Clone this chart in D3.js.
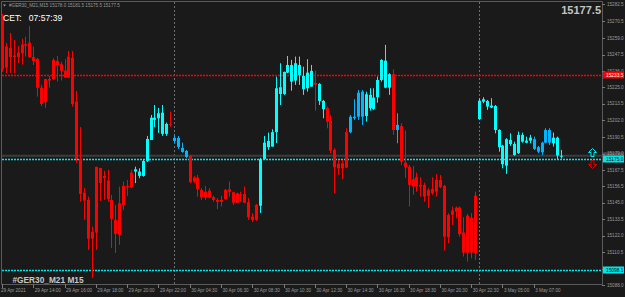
<!DOCTYPE html>
<html lang="en">
	<head>
		<meta charset="utf-8">
		<title>GER30 M15</title>
		<script type="text/javascript" src="https://cdn.jsdelivr.net/npm/d3@7"></script>
		<style type="text/css">
			body { margin: 0; background: #1a1a1a; }
			svg { display: block; }
			text { font-family: "Liberation Sans", Arial, sans-serif; }
		</style>
	</head>
	<body>
		<script type="text/javascript">

			// OHLC per M15 bar
			var open = [15274.2,15253.0,15252.1,15246.8,15248.8,15254.4,15254.6,15255.8,15245.7,15244.5,
				15224.6,15230.6,15230.6,15243.8,15243.1,15240.8,15236.4,15246.1,15245.2,15214.9,
				15175.3,15151.9,15146.9,15124.8,15169.7,15169.0,15163.5,15160.3,15146.9,15133.1,
				15144.6,15156.6,15156.6,15165.8,15166.5,15163.5,15163.5,15173.9,15188.4,15202.3,
				15203.4,15192.6,15192.6,15199.5,15187.7,15183.6,15180.1,15176.7,15177.4,15162.3,
				15162.3,15153.8,15152.6,15153.3,15148.8,15146.9,15146.9,15153.8,15154.3,15152.2,
				15151.5,15150.8,15151.0,15145.3,15135.3,15143.4,15142.9,15175.3,15183.4,15183.8,
				15193.8,15220.2,15220.2,15235.0,15228.8,15229.5,15233.4,15223.5,15224.2,15225.3,
				15227.9,15215.4,15209.7,15210.4,15201.6,15181.5,15171.8,15172.3,15193.8,15193.8,
				15203.4,15204.5,15204.5,15205.0,15210.4,15209.9,15218.0,15229.9,15224.6,15224.6,
				15233.9,15195.3,15198.1,15172.7,15169.9,15161.2,15162.6,15157.3,15157.3,15153.8,
				15154.5,15160.7,15160.7,15156.6,15136.5,15139.5,15141.6,15141.6,15124.3,15136.0,
				15134.6,15149.9,15202.9,15214.9,15211.5,15210.8,15195.3,15183.4,15171.6,15170.6,
				15185.6,15178.0,15179.2,15187.2,15186.5,15187.9,15182.2,15180.3,15179.9,15186.5,
				15186.5,15186.1,15177.6,15177.0];
			var high = [15275.6,15255.5,15262.5,15257.6,15253.5,15258.5,15259.9,15267.3,15253.0,15245.2,
				15226.5,15230.6,15232.7,15245.0,15246.5,15242.6,15244.3,15250.0,15250.0,15222.3,
				15197.4,15155.2,15149.2,15128.4,15169.9,15169.0,15167.0,15167.7,15150.4,15143.4,
				15156.1,15159.6,15160.7,15167.7,15169.9,15168.8,15175.1,15191.2,15205.7,15212.6,
				15210.6,15212.6,15200.4,15208.0,15191.9,15191.2,15186.5,15181.5,15178.0,15163.5,
				15164.2,15155.0,15156.6,15155.0,15149.7,15148.1,15149.7,15154.5,15159.6,15152.6,
				15151.9,15152.6,15156.1,15148.1,15137.7,15144.1,15176.0,15191.2,15193.5,15195.8,
				15232.2,15241.5,15235.7,15246.5,15243.8,15246.1,15246.1,15239.1,15244.3,15240.3,
				15236.4,15227.7,15216.1,15211.5,15205.7,15182.7,15174.6,15174.6,15196.5,15205.7,
				15216.6,15223.0,15223.0,15221.8,15224.2,15224.2,15232.2,15244.3,15254.2,15234.6,
				15237.3,15206.9,15200.0,15194.9,15171.1,15170.4,15165.8,15162.6,15158.9,15155.0,
				15162.6,15164.7,15164.2,15157.3,15137.7,15142.3,15142.3,15142.3,15134.9,15137.2,
				15137.7,15152.6,15217.3,15218.0,15216.1,15217.3,15212.6,15195.8,15185.0,15189.6,
				15193.0,15187.2,15194.2,15193.5,15190.7,15191.9,15190.7,15184.2,15187.2,15196.5,
				15196.5,15193.5,15190.7,15181.5];
			var low = [15235.5,15234.8,15234.8,15234.8,15241.7,15240.5,15246.1,15245.2,15240.3,15218.4,
				15211.9,15210.6,15224.6,15229.9,15228.8,15229.5,15231.5,15231.3,15211.5,15172.5,
				15145.7,15133.1,15112.3,15093.0,15112.3,15146.2,15146.9,15145.7,15113.7,15110.2,
				15115.8,15140.0,15149.7,15155.0,15158.5,15161.9,15163.0,15173.2,15188.4,15197.4,
				15193.3,15191.2,15191.2,15197.6,15186.3,15182.2,15179.6,15176.0,15158.5,15158.5,
				15149.2,15146.9,15146.9,15148.1,15145.7,15140.5,15142.3,15146.9,15149.2,15143.4,
				15144.6,15145.7,15144.6,15133.1,15131.7,15132.4,15137.9,15174.6,15181.5,15183.8,
				15186.3,15212.6,15219.6,15234.6,15222.5,15226.5,15226.5,15219.6,15221.8,15225.3,
				15208.7,15212.6,15203.4,15196.5,15179.2,15151.5,15164.2,15161.2,15168.8,15193.0,
				15202.3,15202.3,15198.8,15201.1,15208.7,15209.2,15214.2,15228.8,15224.2,15219.6,
				15191.9,15186.1,15171.1,15162.1,15142.3,15150.4,15152.6,15149.2,15145.7,15141.2,
				15150.4,15149.2,15155.0,15111.8,15116.9,15129.6,15134.2,15121.5,15107.7,15104.2,
				15106.5,15105.4,15202.3,15213.8,15209.2,15210.4,15193.0,15180.3,15168.8,15164.9,
				15184.2,15177.4,15178.7,15186.5,15186.1,15186.1,15181.5,15179.2,15178.0,15186.1,
				15184.9,15183.8,15175.1,15175.5];
			var close = [15237.5,15238.5,15245.9,15245.7,15245.7,15248.4,15253.7,15245.7,15243.1,15224.6,
				15213.3,15214.5,15229.5,15230.6,15240.3,15236.2,15231.5,15231.5,15213.3,15175.3,
				15151.0,15146.4,15120.1,15120.1,15124.3,15158.7,15162.1,15147.4,15133.8,15123.4,
				15122.7,15143.4,15155.7,15155.7,15168.1,15166.5,15173.9,15189.1,15203.8,15203.8,
				15206.9,15207.3,15199.5,15198.8,15189.8,15189.8,15182.9,15180.8,15159.2,15159.6,
				15154.5,15148.5,15148.5,15148.5,15146.9,15145.5,15145.5,15147.4,15152.6,15145.0,
				15145.0,15149.7,15145.0,15134.9,15133.1,15133.1,15175.1,15186.5,15187.7,15193.8,
				15224.2,15224.9,15235.5,15240.3,15240.3,15241.5,15240.3,15232.7,15235.0,15236.2,
				15226.5,15227.2,15215.4,15201.1,15181.0,15169.5,15168.8,15168.8,15169.3,15204.5,
				15204.5,15221.1,15221.8,15220.0,15219.6,15217.7,15229.9,15243.8,15243.3,15233.9,
				15195.3,15198.8,15173.4,15169.5,15157.3,15156.1,15156.1,15156.1,15149.2,15149.7,
				15151.5,15152.6,15155.7,15121.5,15121.1,15136.5,15138.8,15123.2,15110.4,15110.4,
				15110.4,15110.0,15215.6,15216.6,15215.4,15212.2,15211.9,15195.3,15184.5,15188.9,
				15188.4,15185.6,15191.9,15191.9,15187.9,15190.0,15188.9,15183.4,15186.5,15195.3,
				15195.3,15190.0,15190.0,15177.5];

			// bars painted in the deeper blue
			var blueBars = [44,45,46,47,89,90,91,92,101,136,137,138,139,140];

			// first bar of each day (period separators)
			var dayStarts = [44, 122];

			// time labels, one every 8 bars
			var timeLabels = ["29 Apr 2021","29 Apr 14:00","29 Apr 16:00","29 Apr 18:00","29 Apr 20:00",
				"29 Apr 22:00","30 Apr 04:30","30 Apr 06:30","30 Apr 08:30","30 Apr 10:30","30 Apr 12:30",
				"30 Apr 14:30","30 Apr 16:30","30 Apr 18:30","30 Apr 20:30","30 Apr 22:30","3 May 05:00","3 May 07:00"];

			// price scale labels
			var priceLabels = ["15282.5","15270.5","15259.0","15247.5","15236.0","15225.0","15213.5","15202.0",
				"15190.5","15179.0","15167.5","15156.5","15145.0","15133.5","15122.0","15110.5","15099.0","15088.0"];

			// horizontal lines: level, colour, label
			var levels = [
				{ price: 15233.5, color: "#ff0000", text: "#ffffff" },
				{ price: 15175.0, color: "#00e5ee", text: "#000000" },
				{ price: 15098.1, color: "#00e5ee", text: "#000000" }
			];
			var bid = 15177.5;

			//Width and height
			var w = 625;
			var h = 297;
			var plotRight = 602;
			var plotBottom = 284;

			var x = d3.scaleLinear().domain([0, 143]).range([2, 561.1]);
			var y = d3.scaleLinear().domain([15088, 15282.5]).range([285, 4]);

			var svg = d3.select("body")
						.append("svg")
						.attr("width", w)
						.attr("height", h);

			svg.append("rect")
				.attr("width", w).attr("height", h)
				.attr("fill", "#1a1a1a");

			// frame
			svg.append("path")
				.attr("d", "M1.5," + plotBottom + ".5V1.5H" + plotRight + ".5V" + plotBottom + ".5H1.5")
				.attr("fill", "none")
				.attr("stroke", "#5a5a5a")
				.attr("stroke-width", 1);

			// period separators
			svg.selectAll("line.sep")
				.data(dayStarts)
				.enter()
				.append("line")
				.attr("class", "sep")
				.attr("x1", function(d) { return Math.round(x(d)) + 0.5; })
				.attr("x2", function(d) { return Math.round(x(d)) + 0.5; })
				.attr("y1", 2)
				.attr("y2", plotBottom)
				.attr("stroke", "#6e6e6e")
				.attr("stroke-dasharray", "2,2");

			// bid line
			svg.append("line")
				.attr("x1", 2).attr("x2", plotRight)
				.attr("y1", y(bid)).attr("y2", y(bid))
				.attr("stroke", "#3c3c3c")
				.attr("stroke-width", 2);

			// level lines
			svg.selectAll("line.level")
				.data(levels)
				.enter()
				.append("line")
				.attr("class", "level")
				.attr("x1", 2).attr("x2", plotRight)
				.attr("y1", function(d) { return Math.round(y(d.price)) + 0.5; })
				.attr("y2", function(d) { return Math.round(y(d.price)) + 0.5; })
				.attr("stroke", function(d) { return d.color; })
				.attr("stroke-width", 1.3)
				.attr("stroke-dasharray", "2,1");

			var idx = d3.range(open.length);

			function barColor(i) {
				if (close[i] < open[i]) return "#ff0000";
				if (blueBars.indexOf(i) >= 0) return "#00b4ff";
				return "#00ffff";
			}

			// wicks
			svg.selectAll("line.wick")
				.data(idx)
				.enter()
				.append("line")
				.attr("class", "wick")
				.attr("x1", function(i) { return Math.round(x(i)) + 0.5; })
				.attr("x2", function(i) { return Math.round(x(i)) + 0.5; })
				.attr("y1", function(i) { return y(high[i]); })
				.attr("y2", function(i) { return y(low[i]); })
				.attr("stroke", barColor)
				.attr("stroke-width", 1);

			// bodies
			svg.selectAll("rect.body")
				.data(idx)
				.enter()
				.append("rect")
				.attr("class", "body")
				.attr("x", function(i) { return Math.round(x(i)) - 1; })
				.attr("width", 3)
				.attr("y", function(i) { return y(Math.max(open[i], close[i])); })
				.attr("height", function(i) { return Math.max(1, Math.abs(y(open[i]) - y(close[i]))); })
				.attr("fill", barColor);

			// bid marker on the scale (drawn under the tick labels)
			svg.append("rect")
				.attr("x", plotRight + 1).attr("y", y(bid) - 3.5)
				.attr("width", 21).attr("height", 6)
				.attr("fill", "#4a4a4a");

			// price axis
			svg.selectAll("line.ptick")
				.data(priceLabels)
				.enter()
				.append("line")
				.attr("class", "ptick")
				.attr("x1", plotRight).attr("x2", plotRight + 3)
				.attr("y1", function(d) { return Math.round(y(+d)) + 0.5; })
				.attr("y2", function(d) { return Math.round(y(+d)) + 0.5; })
				.attr("stroke", "#7a7a7a");

			svg.selectAll("text.plabel")
				.data(priceLabels)
				.enter()
				.append("text")
				.attr("class", "plabel")
				.attr("x", plotRight + 5)
				.attr("y", function(d) { return y(+d) + 1.6; })
				.attr("font-size", 4.6)
				.attr("fill", "#9a9a9a")
				.text(function(d) { return d; });

			// level labels on the scale
			var lab = svg.selectAll("g.lvl")
				.data(levels)
				.enter()
				.append("g")
				.attr("class", "lvl")
				.attr("transform", function(d) { return "translate(" + (plotRight + 1) + "," + Math.round(y(d.price)) + ")"; });
			lab.append("rect")
				.attr("x", 0).attr("y", -3.5)
				.attr("width", 21).attr("height", 7)
				.attr("fill", function(d) { return d.color; });
			lab.append("text")
				.attr("x", 3).attr("y", 1.8)
				.attr("font-size", 4.8)
				.attr("fill", function(d) { return d.text; })
				.text(function(d) { return d.price.toFixed(1); });

			// up / down arrows next to the scale
			svg.append("path")
				.attr("d", "M592.5,148.5l-4,4h2.5v4h3v-4h2.5z")
				.attr("fill", "none")
				.attr("stroke", "#00e5ee");
			svg.append("path")
				.attr("d", "M592.5,168.5l-4,-4h2.5v-4h3v4h2.5z")
				.attr("fill", "none")
				.attr("stroke", "#e00000");

			// time axis
			var tIdx = d3.range(timeLabels.length);
			svg.selectAll("line.ttick")
				.data(tIdx)
				.enter()
				.append("line")
				.attr("class", "ttick")
				.attr("x1", function(k) { return Math.round(x(k * 8)) + 0.5; })
				.attr("x2", function(k) { return Math.round(x(k * 8)) + 0.5; })
				.attr("y1", plotBottom)
				.attr("y2", plotBottom + 4)
				.attr("stroke", "#7a7a7a");

			svg.selectAll("text.tlabel")
				.data(tIdx)
				.enter()
				.append("text")
				.attr("class", "tlabel")
				.attr("x", function(k) { return x(k * 8) + (k === 0 ? -1 : 1.5); })
				.attr("y", 292)
				.attr("font-size", 4.6)
				.attr("fill", "#9a9a9a")
				.text(function(k) { return timeLabels[k]; });

			// header
			svg.append("path")
				.attr("d", "M3,4.5h3l-1.5,2z")
				.attr("fill", "#9a9a9a");
			svg.append("text")
				.attr("x", 9).attr("y", 7)
				.attr("font-size", 4.6)
				.attr("fill", "#9a9a9a")
				.text("#GER30_M21,M15  15178.0 15181.5 15175.5 15177.5");

			svg.append("text")
				.attr("x", 3).attr("y", 21)
				.attr("font-size", 8.6)
				.attr("fill", "#ffffff")
				.attr("xml:space", "preserve")
				.text("CET:   07:57:39");

			svg.append("text")
				.attr("x", 601).attr("y", 13.5)
				.attr("text-anchor", "end")
				.attr("font-size", 11)
				.attr("font-weight", "bold")
				.attr("fill", "#c4c4c4")
				.text(bid.toFixed(1));

			svg.append("text")
				.attr("x", 12.5).attr("y", 283)
				.attr("font-size", 8.3)
				.attr("font-weight", "bold")
				.attr("fill", "#c8c8c8")
				.text("#GER30_M21 M15");

		</script>
	</body>
</html>
